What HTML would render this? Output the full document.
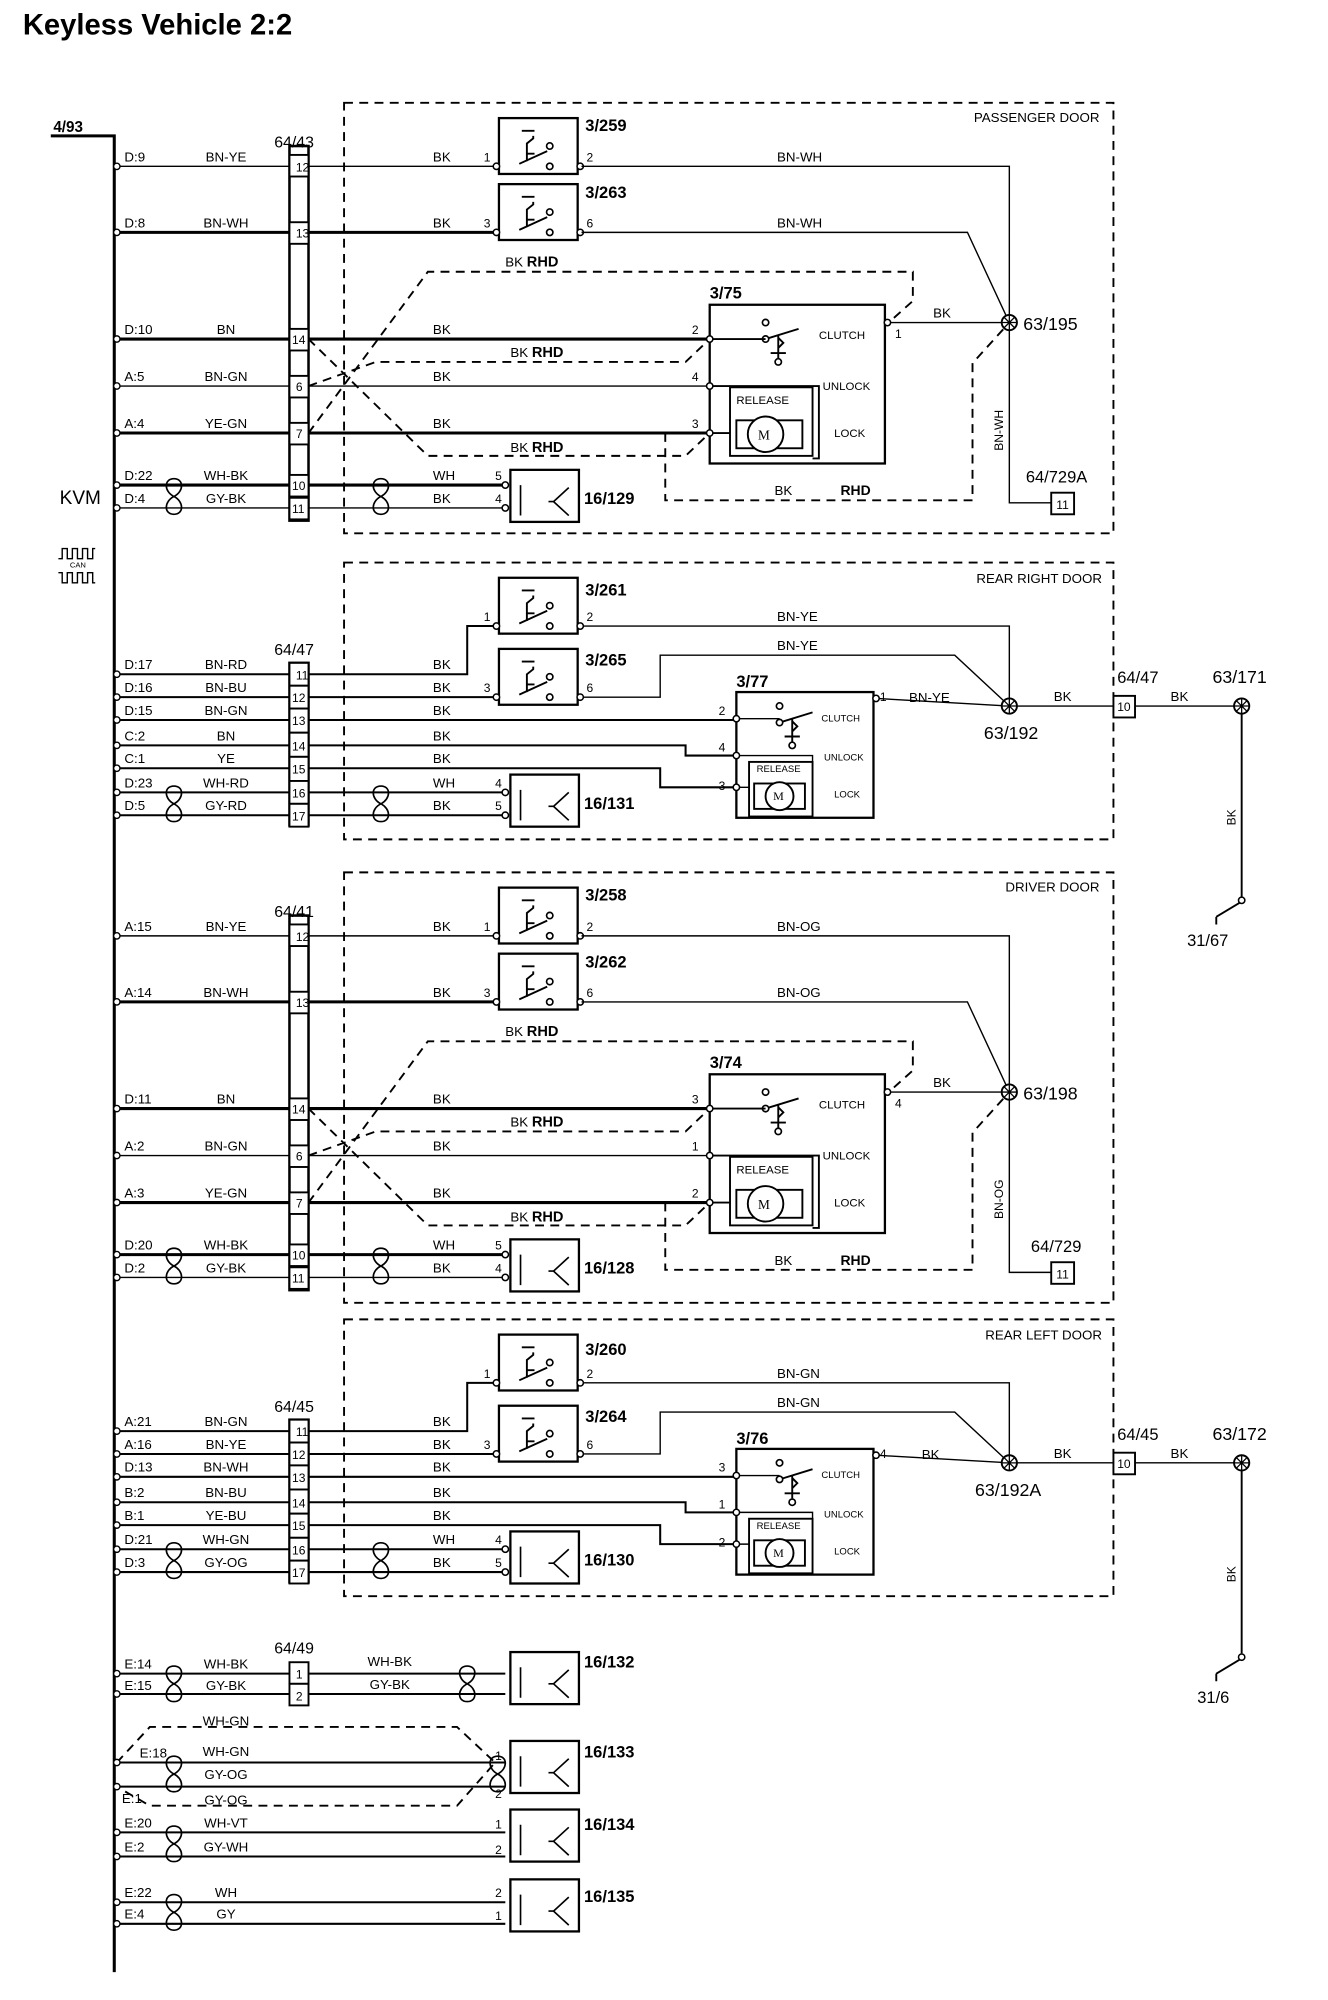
<!DOCTYPE html>
<html><head><meta charset="utf-8"><style>
html,body{margin:0;padding:0;background:#fff}
svg{display:block}
text{font-family:"Liberation Sans",Arial,sans-serif;fill:#000}
.s{font-size:10.5px}.p{font-size:9.5px}.b{font-weight:bold;font-size:13px}.m{font-size:9px}
.t{stroke:#000;stroke-width:2.4;fill:none}.n{stroke:#000;stroke-width:1.1;fill:none}
.d{stroke:#000;stroke-width:1.5;fill:none;stroke-dasharray:7,5}
</style></head><body>
<svg width="1328" height="2000" viewBox="0 0 1046 1575" preserveAspectRatio="none" xmlns="http://www.w3.org/2000/svg">
<defs>
<g id="sw"><rect x="0" y="0" width="62" height="44" fill="#fff" stroke="#000" stroke-width="1.8"/>
<path d="M18 10h10M16 36l22-10M22 34v-14l5-4v-2M22 28h6" stroke="#000" stroke-width="1.5" fill="none"/>
<circle cx="40" cy="22" r="2.5" fill="#fff" stroke="#000" stroke-width="1.3"/><circle cx="40" cy="38" r="2.5" fill="#fff" stroke="#000" stroke-width="1.3"/>
<circle cx="-2" cy="38" r="2.5" fill="#fff" stroke="#000" stroke-width="1.2"/><circle cx="64" cy="38" r="2.5" fill="#fff" stroke="#000" stroke-width="1.2"/></g>
<g id="node"><circle r="6" fill="#fff" stroke="#000" stroke-width="1.5"/><path d="M-4 -4L4 4M-4 4L4 -4M0 -6V6M-6 0H6" stroke="#000" stroke-width="1"/></g>
<g id="tw"><path d="M0 -14c-8 0-8 10 0 14c8 4 8 14 0 14c-8 0-8-10 0-14c8-4 8-14 0-14z" stroke="#000" stroke-width="1.3" fill="none"/></g>
<g id="ant"><rect x="0" y="0" width="54" height="41" fill="#fff" stroke="#000" stroke-width="1.8"/><path d="M8 12V36M8 12h0M46 14l-12 11l12 11M34 25h-4" stroke="#000" stroke-width="1.3" fill="none"/></g>
<g id="mot"><rect x="0" y="0" width="65" height="54" fill="#fff" stroke="#000" stroke-width="1.5"/><rect x="5" y="26" width="52" height="22" fill="#fff" stroke="#000" stroke-width="1.5"/><circle cx="28" cy="37" r="14" fill="#fff" stroke="#000" stroke-width="1.5"/></g>
<g id="mot2"><rect x="0" y="0" width="50" height="43" fill="#fff" stroke="#000" stroke-width="1.5"/><rect x="4" y="17" width="40" height="20" fill="#fff" stroke="#000" stroke-width="1.5"/><circle cx="24" cy="27" r="11" fill="#fff" stroke="#000" stroke-width="1.5"/></g>
<g id="clu"><circle cx="0" cy="0" r="2.5" fill="#fff" stroke="#000" stroke-width="1.3"/><path d="M0 13l26-8M10 10v18M4 24h12M10 12l4 4l-4 4" stroke="#000" stroke-width="1.5" fill="none"/><circle cx="0" cy="13" r="2.5" fill="#fff" stroke="#000" stroke-width="1.3"/><circle cx="10" cy="31" r="2.5" fill="#fff" stroke="#000" stroke-width="1.3"/></g>
</defs>

<text x="18" y="27" style="font-size:23px;font-weight:bold">Keyless Vehicle 2:2</text>
<text x="42" y="104" class="b" style="font-size:12px">4/93</text>
<path d="M40 107H90V1553" class="t"/>
<text x="47" y="397" style="font-size:15px">KVM</text>
<path d="M46 440h3v-8h4v8h4v-8h4v8h4v-8h4v8h4v-8h2M46 451h3v8h4v-8h4v8h4v-8h4v8h4v-8h4v8h2" class="n"/>
<text x="55" y="447" style="font-size:6px">CAN</text>

<!-- PASSENGER and DRIVER sections -->
<g id="pd">
<rect x="271" y="81" width="606" height="339" class="d"/>
<rect x="228" y="115" width="15" height="295" fill="#fff" stroke="#000" stroke-width="2"/>
<g fill="#fff" stroke="#000" stroke-width="1.5"><rect x="228" y="122" width="15" height="17"/><rect x="228" y="175" width="15" height="17"/><rect x="228" y="259" width="15" height="17"/><rect x="228" y="296" width="15" height="17"/><rect x="228" y="333" width="15" height="17"/><rect x="228" y="374" width="15" height="17"/><rect x="228" y="392" width="15" height="17"/></g>
<path d="M92 131H228M243 131H392M92 304H228M243 304H557M92 400H228M243 400H398" class="n"/>
<path d="M92 183H228M243 183H392M92 267H228M243 267H557M92 341H228M243 341H557M92 382H228M243 382H398" class="t"/>
<g fill="#fff" stroke="#000" stroke-width="1.1"><circle cx="92" cy="131" r="2.5"/><circle cx="92" cy="183" r="2.5"/><circle cx="92" cy="267" r="2.5"/><circle cx="92" cy="304" r="2.5"/><circle cx="92" cy="341" r="2.5"/><circle cx="92" cy="382" r="2.5"/><circle cx="92" cy="400" r="2.5"/></g>
<use href="#tw" x="137" y="391"/><use href="#tw" x="300" y="391"/>
<use href="#sw" x="393" y="93"/><use href="#sw" x="393" y="145"/>
<path d="M458 131H795V254M458 183H762L795 254M700 254H795M795 254V396H828" class="n"/>
<path d="M243 341L337 214H719V237L700 254M243 304L296 285H540L559 267M243 267L337 359H540L559 341M524 341V394H766V286L795 254" class="d"/>
<rect x="559" y="240" width="138" height="125" fill="#fff" stroke="#000" stroke-width="1.8"/>
<use href="#clu" x="603" y="254"/>
<path d="M559 267H603M559 304H645V361H640M559 341H575" class="n" style="stroke-width:1.5"/>
<use href="#mot" x="575" y="305"/>
<g fill="#fff" stroke="#000" stroke-width="1.2"><circle cx="559" cy="267" r="2.5"/><circle cx="559" cy="304" r="2.5"/><circle cx="559" cy="341" r="2.5"/><circle cx="699" cy="254" r="2.5"/><circle cx="398" cy="382" r="2.5"/><circle cx="398" cy="400" r="2.5"/></g>
<use href="#ant" x="402" y="370"/>
<use href="#node" x="795" y="254"/>
<rect x="828" y="388" width="18" height="17" fill="#fff" stroke="#000" stroke-width="1.5"/>
<text x="597" y="346" class="s" style="font-family:'Liberation Serif',serif">M</text>
<text x="580" y="318" class="m">RELEASE</text><text x="645" y="267" class="m">CLUTCH</text><text x="648" y="307" class="m">UNLOCK</text><text x="657" y="344" class="m">LOCK</text>
<text x="341" y="127" class="s">BK</text><text x="341" y="179" class="s">BK</text><text x="341" y="263" class="s">BK</text><text x="341" y="300" class="s">BK</text><text x="341" y="337" class="s">BK</text><text x="341" y="378" class="s">WH</text><text x="341" y="396" class="s">BK</text>
<text x="735" y="250" class="s">BK</text><text x="610" y="390" class="s">BK</text><text x="662" y="390" class="b" style="font-size:11px">RHD</text>
<text x="398" y="210" class="s">BK <tspan font-weight="bold" font-size="11.5">RHD</tspan></text>
<text x="402" y="281" class="s">BK <tspan font-weight="bold" font-size="11.5">RHD</tspan></text>
<text x="402" y="356" class="s">BK <tspan font-weight="bold" font-size="11.5">RHD</tspan></text>
<text x="233" y="135" class="p">12</text><text x="233" y="187" class="p">13</text><text x="230" y="271" class="p">14</text><text x="233" y="308" class="p">6</text><text x="233" y="345" class="p">7</text><text x="230" y="386" class="p">10</text><text x="230" y="404" class="p">11</text>
<text x="832" y="401" class="p">11</text>
</g>
<g transform="translate(0,606)"><use href="#pd"/></g>

<!-- passenger texts -->
<text x="866" y="96" class="s" text-anchor="end">PASSENGER DOOR</text>
<text x="216" y="116" style="font-size:12.5px">64/43</text>
<text x="461" y="103" class="b">3/259</text><text x="461" y="156" class="b">3/263</text><text x="559" y="235" class="b">3/75</text>
<text x="460" y="397" class="b">16/129</text>
<text x="806" y="260" style="font-size:14px">63/195</text><text x="808" y="380" style="font-size:13px">64/729A</text>
<text x="790" y="355" class="p" transform="rotate(-90 790 355)">BN-WH</text>
<text x="612" y="127" class="s">BN-WH</text><text x="612" y="179" class="s">BN-WH</text>
<text x="381" y="127" class="p">1</text><text x="462" y="127" class="p">2</text><text x="381" y="179" class="p">3</text><text x="462" y="179" class="p">6</text>
<text x="545" y="263" class="p">2</text><text x="545" y="300" class="p">4</text><text x="545" y="337" class="p">3</text><text x="705" y="266" class="p">1</text>
<text x="390" y="378" class="p">5</text><text x="390" y="396" class="p">4</text>
<g class="s"><text x="98" y="127">D:9</text><text x="98" y="179">D:8</text><text x="98" y="263">D:10</text><text x="98" y="300">A:5</text><text x="98" y="337">A:4</text><text x="98" y="378">D:22</text><text x="98" y="396">D:4</text></g>
<g class="s" text-anchor="middle"><text x="178" y="127">BN-YE</text><text x="178" y="179">BN-WH</text><text x="178" y="263">BN</text><text x="178" y="300">BN-GN</text><text x="178" y="337">YE-GN</text><text x="178" y="378">WH-BK</text><text x="178" y="396">GY-BK</text></g>

<!-- driver texts -->
<text x="866" y="702" class="s" text-anchor="end">DRIVER DOOR</text>
<text x="216" y="722" style="font-size:12.5px">64/41</text>
<text x="461" y="709" class="b">3/258</text><text x="461" y="762" class="b">3/262</text><text x="559" y="841" class="b">3/74</text>
<text x="460" y="1003" class="b">16/128</text>
<text x="806" y="866" style="font-size:14px">63/198</text><text x="812" y="986" style="font-size:13px">64/729</text>
<text x="790" y="960" class="p" transform="rotate(-90 790 960)">BN-OG</text>
<text x="612" y="733" class="s">BN-OG</text><text x="612" y="785" class="s">BN-OG</text>
<text x="381" y="733" class="p">1</text><text x="462" y="733" class="p">2</text><text x="381" y="785" class="p">3</text><text x="462" y="785" class="p">6</text>
<text x="545" y="869" class="p">3</text><text x="545" y="906" class="p">1</text><text x="545" y="943" class="p">2</text><text x="705" y="872" class="p">4</text>
<text x="390" y="984" class="p">5</text><text x="390" y="1002" class="p">4</text>
<g class="s"><text x="98" y="733">A:15</text><text x="98" y="785">A:14</text><text x="98" y="869">D:11</text><text x="98" y="906">A:2</text><text x="98" y="943">A:3</text><text x="98" y="984">D:20</text><text x="98" y="1002">D:2</text></g>
<g class="s" text-anchor="middle"><text x="178" y="733">BN-YE</text><text x="178" y="785">BN-WH</text><text x="178" y="869">BN</text><text x="178" y="906">BN-GN</text><text x="178" y="943">YE-GN</text><text x="178" y="984">WH-BK</text><text x="178" y="1002">GY-BK</text></g>

<!-- REAR sections -->
<g id="rr">
<rect x="271" y="443" width="606" height="218" class="d"/>
<rect x="228" y="522" width="15" height="128" fill="#fff" stroke="#000" stroke-width="2"/>
<g fill="#fff" stroke="#000" stroke-width="1.5"><rect x="228" y="522" width="15" height="18"/><rect x="228" y="540" width="15" height="18"/><rect x="228" y="558" width="15" height="19"/><rect x="228" y="577" width="15" height="19"/><rect x="228" y="596" width="15" height="19"/><rect x="228" y="615" width="15" height="18"/><rect x="228" y="633" width="15" height="18"/></g>
<path d="M92 531H228M243 531H368V493H392M92 549H228M243 549H392M92 567H228M243 567H578M92 587H228M243 587H540V595H578M92 605H228M243 605H520V620H578M92 624H228M243 624H398M92 642H228M243 642H398" class="n" style="stroke-width:1.6"/>
<path d="M458 493H795V556M458 549H520V516H752L795 556M690 550L795 556H877M894 556H978" class="n"/>
<g fill="#fff" stroke="#000" stroke-width="1.1"><circle cx="92" cy="531" r="2.5"/><circle cx="92" cy="549" r="2.5"/><circle cx="92" cy="567" r="2.5"/><circle cx="92" cy="587" r="2.5"/><circle cx="92" cy="605" r="2.5"/><circle cx="92" cy="624" r="2.5"/><circle cx="92" cy="642" r="2.5"/></g>
<use href="#tw" x="137" y="633"/><use href="#tw" x="300" y="633"/>
<use href="#sw" x="393" y="455"/><use href="#sw" x="393" y="511"/>
<rect x="580" y="545" width="108" height="99" fill="#fff" stroke="#000" stroke-width="1.8"/>
<use href="#clu" x="614" y="556" transform="scale(1)"/>
<path d="M580 566H614M580 595H640V640M580 620H594" class="n"/>
<use href="#mot2" x="590" y="600"/>
<text x="609" y="630" class="p" style="font-family:'Liberation Serif',serif">M</text>
<text x="596" y="608" style="font-size:7.5px">RELEASE</text><text x="647" y="568" style="font-size:7.5px">CLUTCH</text><text x="649" y="599" style="font-size:7.5px">UNLOCK</text><text x="657" y="628" style="font-size:7.5px">LOCK</text>
<g fill="#fff" stroke="#000" stroke-width="1.2"><circle cx="580" cy="566" r="2.5"/><circle cx="580" cy="595" r="2.5"/><circle cx="580" cy="620" r="2.5"/><circle cx="690" cy="550" r="2.5"/><circle cx="398" cy="624" r="2.5"/><circle cx="398" cy="642" r="2.5"/></g>
<use href="#ant" x="402" y="610"/>
<use href="#node" x="795" y="556"/><use href="#node" x="978" y="556"/>
<rect x="877" y="548" width="17" height="17" fill="#fff" stroke="#000" stroke-width="1.5"/>
<text x="880" y="560" class="p">10</text>
<path d="M978 562V706M978 710L958 722M958 722V728" class="n" style="stroke-width:1.5"/>
<circle cx="978" cy="709" r="2.5" fill="#fff" stroke="#000" stroke-width="1.2"/>
<text x="341" y="527" class="s">BK</text><text x="341" y="545" class="s">BK</text><text x="341" y="563" class="s">BK</text><text x="341" y="583" class="s">BK</text><text x="341" y="601" class="s">BK</text><text x="341" y="620" class="s">WH</text><text x="341" y="638" class="s">BK</text>
<text x="830" y="552" class="s">BK</text><text x="922" y="552" class="s">BK</text>
<text x="973" y="650" class="p" transform="rotate(-90 973 650)">BK</text>
<text x="233" y="535" class="p">11</text><text x="230" y="553" class="p">12</text><text x="230" y="571" class="p">13</text><text x="230" y="591" class="p">14</text><text x="230" y="609" class="p">15</text><text x="230" y="628" class="p">16</text><text x="230" y="646" class="p">17</text>
<text x="381" y="489" class="p">1</text><text x="462" y="489" class="p">2</text><text x="381" y="545" class="p">3</text><text x="462" y="545" class="p">6</text>
</g>
<g transform="translate(0,596)"><use href="#rr"/></g>

<!-- rear right texts -->
<text x="868" y="459" class="s" text-anchor="end">REAR RIGHT DOOR</text>
<text x="216" y="516" style="font-size:12.5px">64/47</text>
<text x="461" y="469" class="b">3/261</text><text x="461" y="524" class="b">3/265</text><text x="580" y="541" class="b">3/77</text>
<text x="460" y="637" class="b">16/131</text>
<text x="775" y="582" style="font-size:14px">63/192</text><text x="880" y="538" style="font-size:13px">64/47</text><text x="955" y="538" style="font-size:14px">63/171</text>
<text x="935" y="745" style="font-size:13px">31/67</text>
<text x="612" y="489" class="s">BN-YE</text><text x="612" y="512" class="s">BN-YE</text><text x="716" y="553" class="s">BN-YE</text>
<text x="566" y="563" class="p">2</text><text x="566" y="592" class="p">4</text><text x="566" y="622" class="p">3</text><text x="693" y="552" class="p">1</text>
<text x="390" y="620" class="p">4</text><text x="390" y="638" class="p">5</text>
<g class="s"><text x="98" y="527">D:17</text><text x="98" y="545">D:16</text><text x="98" y="563">D:15</text><text x="98" y="583">C:2</text><text x="98" y="601">C:1</text><text x="98" y="620">D:23</text><text x="98" y="638">D:5</text></g>
<g class="s" text-anchor="middle"><text x="178" y="527">BN-RD</text><text x="178" y="545">BN-BU</text><text x="178" y="563">BN-GN</text><text x="178" y="583">BN</text><text x="178" y="601">YE</text><text x="178" y="620">WH-RD</text><text x="178" y="638">GY-RD</text></g>

<!-- rear left texts -->
<text x="868" y="1055" class="s" text-anchor="end">REAR LEFT DOOR</text>
<text x="216" y="1112" style="font-size:12.5px">64/45</text>
<text x="461" y="1067" class="b">3/260</text><text x="461" y="1120" class="b">3/264</text><text x="580" y="1137" class="b">3/76</text>
<text x="460" y="1233" class="b">16/130</text>
<text x="768" y="1178" style="font-size:14px">63/192A</text><text x="880" y="1134" style="font-size:13px">64/45</text><text x="955" y="1134" style="font-size:14px">63/172</text>
<text x="943" y="1341" style="font-size:13px">31/6</text>
<text x="612" y="1085" class="s">BN-GN</text><text x="612" y="1108" class="s">BN-GN</text><text x="726" y="1149" class="s">BK</text>
<text x="566" y="1159" class="p">3</text><text x="566" y="1188" class="p">1</text><text x="566" y="1218" class="p">2</text><text x="693" y="1148" class="p">4</text>
<text x="390" y="1216" class="p">4</text><text x="390" y="1234" class="p">5</text>
<g class="s"><text x="98" y="1123">A:21</text><text x="98" y="1141">A:16</text><text x="98" y="1159">D:13</text><text x="98" y="1179">B:2</text><text x="98" y="1197">B:1</text><text x="98" y="1216">D:21</text><text x="98" y="1234">D:3</text></g>
<g class="s" text-anchor="middle"><text x="178" y="1123">BN-GN</text><text x="178" y="1141">BN-YE</text><text x="178" y="1159">BN-WH</text><text x="178" y="1179">BN-BU</text><text x="178" y="1197">YE-BU</text><text x="178" y="1216">WH-GN</text><text x="178" y="1234">GY-OG</text></g>

<!-- bottom antennas -->
<text x="216" y="1302" style="font-size:12.5px">64/49</text>
<rect x="228" y="1309" width="15" height="17" fill="#fff" stroke="#000" stroke-width="1.5"/><rect x="228" y="1326" width="15" height="17" fill="#fff" stroke="#000" stroke-width="1.5"/>
<text x="233" y="1322" class="p">1</text><text x="233" y="1339" class="p">2</text>
<path d="M92 1318H228M243 1318H398M92 1334H228M243 1334H398" class="t" style="stroke-width:1.6"/>
<path d="M92 1388H398M92 1407H398M92 1443H398M92 1462H398M92 1498H398M92 1515H398" class="n" style="stroke-width:1.6"/>
<path d="M92 1388L118 1360H360L390 1388L360 1422H118L92 1407" class="d"/>
<use href="#tw" x="137" y="1326"/><use href="#tw" x="368" y="1326"/><use href="#tw" x="137" y="1397"/><use href="#tw" x="392" y="1397"/><use href="#tw" x="137" y="1452"/><use href="#tw" x="137" y="1506"/>
<use href="#ant" x="402" y="1301"/><use href="#ant" x="402" y="1371"/><use href="#ant" x="402" y="1425"/><use href="#ant" x="402" y="1480"/>
<g fill="#fff" stroke="#000" stroke-width="1.1"><circle cx="92" cy="1318" r="2.5"/><circle cx="92" cy="1334" r="2.5"/><circle cx="92" cy="1388" r="2.5"/><circle cx="92" cy="1407" r="2.5"/><circle cx="92" cy="1443" r="2.5"/><circle cx="92" cy="1462" r="2.5"/><circle cx="92" cy="1498" r="2.5"/><circle cx="92" cy="1515" r="2.5"/></g>
<text x="460" y="1313" class="b">16/132</text><text x="460" y="1384" class="b">16/133</text><text x="460" y="1441" class="b">16/134</text><text x="460" y="1498" class="b">16/135</text>
<g class="s"><text x="98" y="1314">E:14</text><text x="98" y="1331">E:15</text><text x="110" y="1384">E:18</text><text x="96" y="1420">E:1</text><text x="98" y="1439">E:20</text><text x="98" y="1458">E:2</text><text x="98" y="1494">E:22</text><text x="98" y="1511">E:4</text></g>
<g class="s" text-anchor="middle"><text x="178" y="1314">WH-BK</text><text x="178" y="1331">GY-BK</text><text x="178" y="1359">WH-GN</text><text x="178" y="1383">WH-GN</text><text x="178" y="1401">GY-OG</text><text x="178" y="1421">GY-OG</text><text x="178" y="1439">WH-VT</text><text x="178" y="1458">GY-WH</text><text x="178" y="1494">WH</text><text x="178" y="1511">GY</text><text x="307" y="1312">WH-BK</text><text x="307" y="1330">GY-BK</text></g>
<g class="p"><text x="390" y="1386">1</text><text x="390" y="1416">2</text><text x="390" y="1440">1</text><text x="390" y="1460">2</text><text x="390" y="1494">2</text><text x="390" y="1512">1</text></g>
</svg>
</body></html>
